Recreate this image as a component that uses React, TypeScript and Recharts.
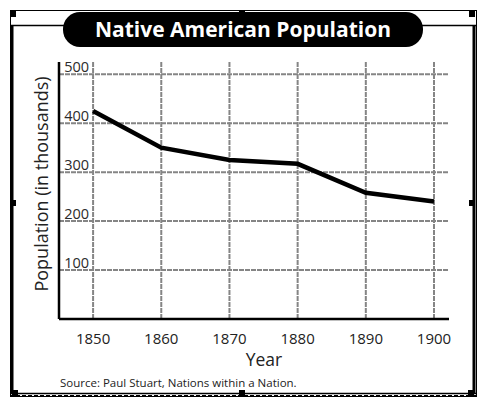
import React from 'react';
import { LineChart, Line, XAxis, YAxis, ReferenceLine } from 'recharts';

// Population readings (thousands) by census decade
const years = [1850, 1860, 1870, 1880, 1890, 1900];
const population = [425, 350, 325, 317, 258, 240];
const yTicks = [0, 100, 200, 300, 400, 500];

const data = years.map((year, i) => ({ year, population: population[i] }));

const FONT = '"Open Sans", Lato, sans-serif';
const GRID = '#858585';

const YearTick = (props: any) => {
  const { x, y, payload } = props;
  return (
    <text x={x} y={y + 23} textAnchor="middle" fontSize={15} fontFamily={FONT} fill="#222">
      {payload.value}
    </text>
  );
};

const PopTick = (props: any) => {
  const { x, y, payload } = props;
  if (payload.value === 0) return null;
  return (
    <text x={x + 30} y={y - 2} textAnchor="end" fontSize={14.5} fontFamily={FONT} fill="#2a2a2a">
      {payload.value}
    </text>
  );
};

const Handle = ({ x, y }: { x: number; y: number }) => (
  <rect x={x - 3} y={y - 3} width={6} height={6} fill="#000" />
);

const App = () => (
  <div style={{ position: 'relative', width: 488, height: 405, margin: -8, background: '#fff' }}>
    <svg width={488} height={405} style={{ position: 'absolute', left: 0, top: 0 }}>
      {/* selection box */}
      <rect x={10.5} y={10.5} width={466} height={386} fill="none" stroke="#000" strokeWidth={1} />
      <line x1={10} y1={396} x2={477} y2={396} stroke="#000" strokeWidth={2} strokeDasharray="4 2" />
      {/* chart frame */}
      <line x1={12} y1={25} x2={12} y2={394} stroke="#000" strokeWidth={3} />
      <line x1={474} y1={25} x2={474} y2={394} stroke="#000" strokeWidth={3} />
      <line x1={10} y1={25.5} x2={477} y2={25.5} stroke="#000" strokeWidth={1.5} />
      <line x1={10} y1={393.5} x2={477} y2={393.5} stroke="#000" strokeWidth={1.5} />
      {/* title pill */}
      <rect x={63} y={12} width={360} height={35} rx={17} ry={17} fill="#000" />
      <text x={243} y={37} textAnchor="middle" fontSize={21} fontWeight={700} fontFamily={FONT} fill="#fff">
        Native American Population
      </text>
      <Handle x={13} y={14} />
      <Handle x={242} y={14} />
      <Handle x={472} y={14} />
      <Handle x={13} y={203} />
      <Handle x={472} y={203} />
      <Handle x={15} y={393} />
      <Handle x={242} y={393} />
      <Handle x={471} y={393} />
      <text
        x={41}
        y={184}
        transform="rotate(-90 41 184)"
        textAnchor="middle"
        dominantBaseline="central"
        fontSize={18}
        fontFamily={FONT}
        fill="#222"
      >
        Population (in thousands)
      </text>
      <text x={264} y={366} textAnchor="middle" fontSize={17.5} fontFamily={FONT} fill="#222">
        Year
      </text>
      <text x={60} y={387} fontSize={11.5} fontFamily={FONT} fill="#222">
        Source: Paul Stuart, Nations within a Nation.
      </text>
    </svg>
    <div style={{ position: 'absolute', left: 0, top: 0 }}>
      <LineChart width={488} height={405} data={data} margin={{ top: 62, right: 39, bottom: 46, left: 19 }}>
        {yTicks.slice(1).map((v) => (
          <ReferenceLine key={`h-${v}`} y={v} stroke={GRID} strokeWidth={2} strokeDasharray="5 1" />
        ))}
        {years.map((yr) => (
          <ReferenceLine key={`v-${yr}`} x={yr} stroke={GRID} strokeWidth={2} strokeDasharray="5 1" />
        ))}
        <XAxis
          dataKey="year"
          type="number"
          domain={[1845, 1902.2]}
          ticks={years}
          axisLine={{ stroke: '#000', strokeWidth: 2.5 }}
          tickLine={false}
          tickSize={0}
          tick={<YearTick />}
          height={40}
        />
        <YAxis
          type="number"
          domain={[0, 525]}
          ticks={yTicks}
          axisLine={{ stroke: '#000', strokeWidth: 2.5 }}
          tickLine={false}
          tickSize={0}
          tick={<PopTick />}
          width={40}
          tickMargin={0}
        />
        <Line
          dataKey="population"
          stroke="#000"
          strokeWidth={4.5}
          dot={false}
          type="linear"
          isAnimationActive={false}
        />
      </LineChart>
    </div>
  </div>
);

export default App;
